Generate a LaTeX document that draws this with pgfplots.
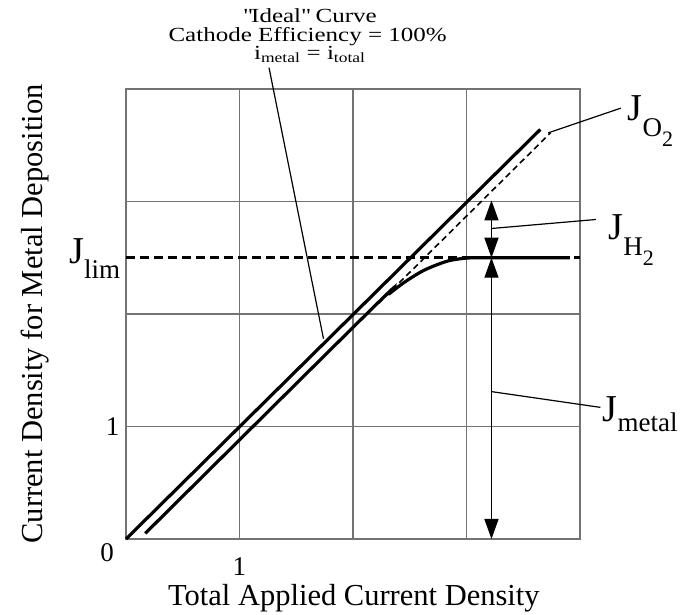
\documentclass[border=0pt]{standalone}
\usepackage{fontspec}
\setmainfont{Liberation Serif}
\newfontfamily\titlefont[FakeStretch=1.25]{Liberation Serif}
\usepackage{pgfplots}
\pgfplotsset{compat=1.18}
\usetikzlibrary{arrows.meta}

\newcommand{\bigJ}{{\fontsize{38}{38}\selectfont J}}
\newcommand{\subf}{\fontsize{27}{27}\selectfont}
\newcommand{\subsubf}{\fontsize{22}{22}\selectfont}

\begin{document}
\begin{tikzpicture}[x=1pt,y=1pt]
\useasboundingbox (-126,-76) rectangle (570,539);
\begin{axis}[
    at={(0,0)}, anchor=south west,
    scale only axis, width=454pt, height=450pt,
    xmin=0, xmax=4, ymin=0, ymax=4,
    xtick={0,1,2,3,4}, ytick={0,1,2,3,4},
    xticklabels={,1,,,}, yticklabels={,1,,,},
    major tick length=0pt,
    grid=major,
    grid style={black!55, line width=1.5pt},
    axis line style={black!55, line width=1.5pt},
    tick label style={font=\fontsize{27}{27}\selectfont},
    xticklabel style={yshift=-15pt},
    yticklabel style={xshift=-3pt},
    xlabel={Total Applied Current Density},
    ylabel={Current Density for Metal Deposition},
    label style={font=\fontsize{30.5}{30.5}\selectfont},
    xlabel style={at={(axis description cs:0.502,-0.147)}, anchor=base},
    ylabel style={at={(axis description cs:-0.183,0.5)}, anchor=base},
    clip=false,
]

% ideal curve, efficiency 100%
\addplot[black, line width=3.2pt] coordinates {(0,0) (3.65,3.64)};

% metal deposition curve
\addplot[black, line width=3.2pt, smooth, tension=0.5] coordinates {
    (0.17,0.05) (2.2,2.08) (2.32,2.18) (2.45,2.28) (2.6,2.375)
    (2.72,2.43) (2.85,2.475) (3.0,2.497) (3.15,2.5) (3.91,2.5)
};

% extrapolated (J_O2) dashed line
\addplot[black, line width=1.6pt, dash pattern=on 6pt off 4pt] coordinates {(2.22,2.09) (3.74,3.61)};

% limiting current
\addplot[black, line width=2.6pt, dash pattern=on 9pt off 5pt] coordinates {(0,2.5) (4,2.5)};

% arrows
\draw[line width=1.4pt, {Triangle[length=20pt,width=14pt]}-{Triangle[length=20pt,width=14pt]}]
    (axis cs:3.22,3.01) -- (axis cs:3.22,2.5);
\draw[line width=1.4pt, {Triangle[length=20pt,width=14pt]}-{Triangle[length=20pt,width=14pt]}]
    (axis cs:3.22,2.5) -- (axis cs:3.22,0);

% leaders
\draw[line width=1.2pt] (axis cs:1.26,4.19) -- (axis cs:1.74,1.78);
\draw[line width=1.2pt] (axis cs:3.72,3.61) -- (axis cs:4.36,3.83);
\draw[line width=1.2pt] (axis cs:3.22,2.76) -- (axis cs:4.14,2.84);
\draw[line width=1.2pt] (axis cs:3.22,1.31) -- (axis cs:4.18,1.17);

% labels
\node[anchor=base west, inner sep=0pt] at (axis cs:4.42,3.724)
    {\bigJ\raisebox{-16pt}{\subf O\raisebox{-10pt}{\subsubf 2}}};
\node[anchor=base west, inner sep=0pt] at (axis cs:4.25,2.658)
    {\bigJ\raisebox{-16pt}{\subf H\raisebox{-10pt}{\subsubf 2}}};
\node[anchor=base west, inner sep=0pt] at (axis cs:4.20,1.04)
    {\bigJ\raisebox{-10pt}{\subf metal}};
\node[anchor=base west, inner sep=0pt] at (axis cs:-0.50,2.453)
    {\bigJ\raisebox{-15pt}{\subf lim}};
\node[font=\fontsize{27}{27}\selectfont] at (axis cs:-0.167,-0.124) {0};

% title
\node[anchor=base, inner sep=0pt, font=\titlefont\fontsize{20}{20}\selectfont] at (axis cs:1.62,4.587) {\textquotedbl Ideal\textquotedbl{} Curve};
\node[anchor=base, inner sep=0pt, font=\titlefont\fontsize{20}{20}\selectfont] at (axis cs:1.60,4.418) {Cathode Efficiency = 100\%};
\node[anchor=base, inner sep=0pt, font=\titlefont\fontsize{20}{20}\selectfont] at (axis cs:1.62,4.262)
    {i\textsubscript{metal} = i\textsubscript{total}};
\end{axis}
\end{tikzpicture}
\end{document}
